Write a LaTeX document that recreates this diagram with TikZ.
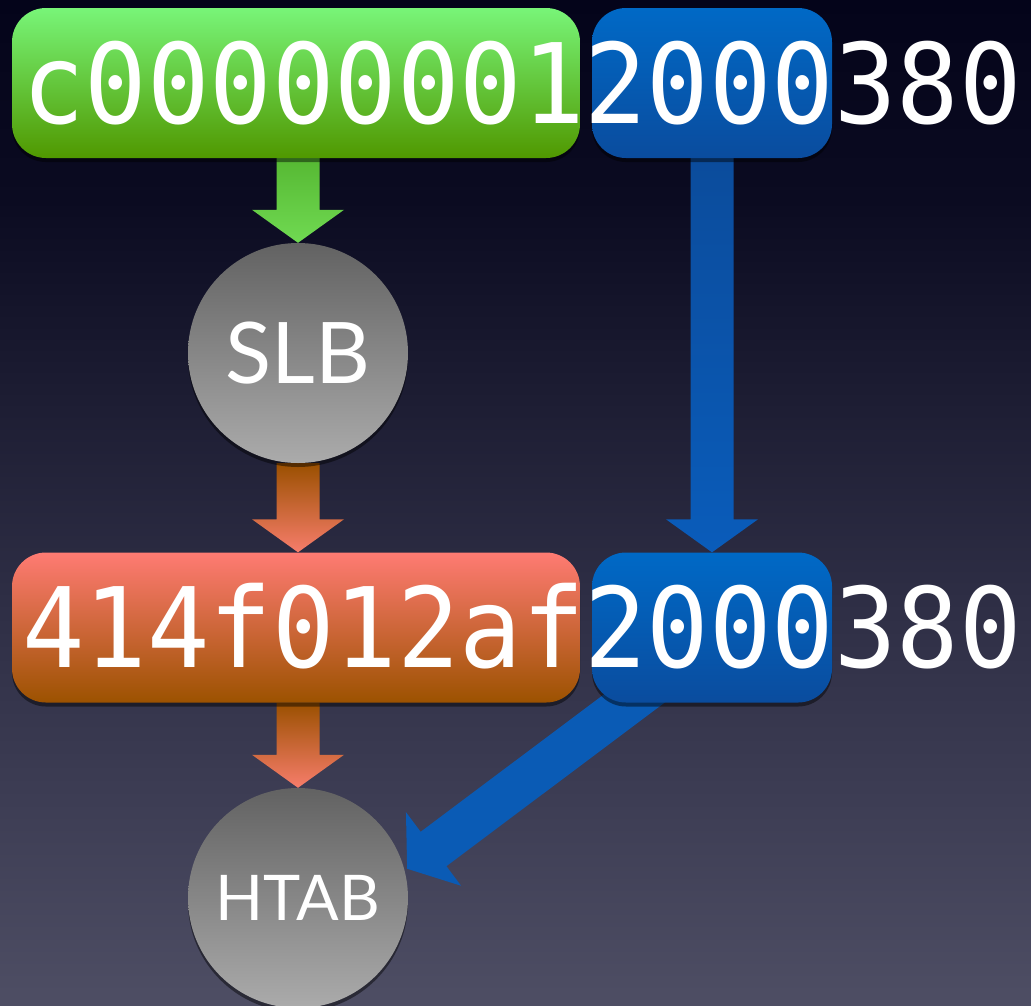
\documentclass[tikz,border=0pt]{standalone}
\usepackage{fontspec}
\newfontfamily\monof[FakeStretch=0.935]{DejaVu Sans Mono}
\newfontfamily\sansf{Lato}
\usetikzlibrary{calc,shadows}
\pgfdeclarelayer{back}
\pgfdeclarelayer{arr}
\pgfsetlayers{back,arr,main}
\definecolor{bgA}{HTML}{04041A}
\definecolor{bgB}{HTML}{0B0B21}
\definecolor{bgC}{HTML}{1D1D33}
\definecolor{bgD}{HTML}{2E2E45}
\definecolor{bgE}{HTML}{3D3D54}
\definecolor{bgF}{HTML}{4E4E64}
\definecolor{grtop}{HTML}{78F578}
\definecolor{grbot}{HTML}{509800}
\definecolor{ortop}{HTML}{FF7B73}
\definecolor{orbot}{HTML}{9C5200}
\definecolor{bltop}{HTML}{0069C6}
\definecolor{blbot}{HTML}{0A4C9E}
\definecolor{cirtop}{HTML}{626262}
\definecolor{cirbot}{HTML}{ABABAB}
\definecolor{gatop}{HTML}{56B833}
\definecolor{gabot}{HTML}{70DA52}
\definecolor{oatop}{HTML}{9A5000}
\definecolor{oabot}{HTML}{F77D6B}
\definecolor{batop}{HTML}{0B4C9C}
\definecolor{babot}{HTML}{0A5CBA}
\definecolor{badiag}{HTML}{0A5BB5}
\newcommand\fatarrow[3]{%
  \coordinate (fa-h) at ($(#2)!33pt!(#1)$);
  \path[#3] ($(#1)!21.5pt!90:(#2)$) -- ($(fa-h)!21.5pt!90:(#2)$) -- ($(fa-h)!46pt!90:(#2)$) -- (#2)
    -- ($(fa-h)!46pt!-90:(#2)$) -- ($(fa-h)!21.5pt!-90:(#2)$) -- ($(#1)!21.5pt!-90:(#2)$) -- cycle;
}
\tikzset{
  softshadow/.style={drop shadow={shadow xshift=0pt, shadow yshift=-4pt, opacity=0.45, fill=black}},
  box/.style={rectangle, rounded corners=34pt, inner sep=0pt, minimum height=150pt, softshadow},
  greenbox/.style={box, top color=grtop, bottom color=grbot},
  orangebox/.style={box, top color=ortop, bottom color=orbot},
  bluebox/.style={box, top color=bltop, bottom color=blbot},
  disc/.style={circle, minimum size=220pt, inner sep=0pt, top color=cirtop, bottom color=cirbot,
    text=white, font=\sansf, softshadow},
  mono/.style={inner sep=0pt, anchor=base west, text=white, font=\monof\fontsize{111}{120}\selectfont},
}
\begin{document}
\begin{tikzpicture}[x=1pt,y=1pt]
\useasboundingbox (0,0) rectangle (1031,-1005);
\begin{pgfonlayer}{back}
\shade[top color=bgA, bottom color=bgB] (0,0.5) rectangle (1031,-200.5);
\shade[top color=bgB, bottom color=bgC] (0,-200) rectangle (1031,-400.5);
\shade[top color=bgC, bottom color=bgD] (0,-400) rectangle (1031,-600.5);
\shade[top color=bgD, bottom color=bgE] (0,-600) rectangle (1031,-800.5);
\shade[top color=bgE, bottom color=bgF] (0,-800) rectangle (1031,-1005.5);
\end{pgfonlayer}

% boxes
\node[greenbox, minimum width=568pt] (g1) at (296,-83) {};
\node[bluebox, minimum width=240pt] (b1) at (712,-83) {};
\node[orangebox, minimum width=568pt] (o2) at (296,-627.5) {};
\node[bluebox, minimum width=240pt] (b2) at (712,-627.5) {};

% circles
\node[disc, font=\sansf\fontsize{85}{90}\selectfont] (slb) at (298,-353) {SLB};
\node[disc, font=\sansf\fontsize{63}{70}\selectfont] (htab) at (298,-898) {HTAB};

% texts
\node[mono] (t1) at (22,-123) {c000000012000380};
\node[mono] (t2) at (22,-667) {414f012af2000380};

% arrows
\begin{pgfonlayer}{arr}
\coordinate (ga) at (g1.south -| slb.north);
\fatarrow{ga}{slb.north}{top color=gatop, bottom color=gabot}
\fatarrow{slb.south}{o2.north -| slb.south}{top color=oatop, bottom color=oabot}
\coordinate (oa) at (o2.south -| htab.north);
\fatarrow{oa}{htab.north}{top color=oatop, bottom color=oabot}
\fatarrow{b1.south}{b2.north}{top color=batop, bottom color=babot}
\coordinate (dstart) at ($(b2.center)+(17pt,0pt)$);
\coordinate (dtip) at ($(htab.center)!113pt!(htab.15)$);
\fatarrow{dstart}{dtip}{fill=badiag}
\end{pgfonlayer}
\end{tikzpicture}
\end{document}
